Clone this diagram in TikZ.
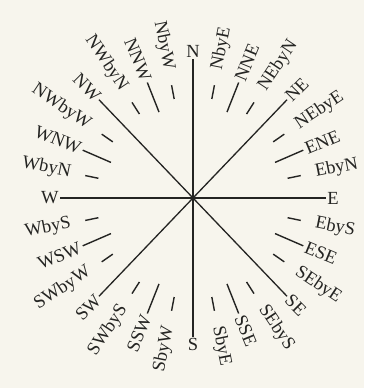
\documentclass[tikz,border=0pt]{standalone}
\usepackage{fontspec}
\setmainfont{Liberation Serif}
\definecolor{paper}{RGB}{247,245,237}
\definecolor{ink}{RGB}{36,36,34}
\begin{document}
\begin{tikzpicture}[x=1pt,y=1pt,
  ray/.style={draw=ink,line width=1.3pt},
  tickline/.style={draw=ink,line width=1.4pt},
  lab/.style={text=ink,inner sep=0.5pt,font=\fontsize{18.5}{18.5}\selectfont}]
\fill[paper] (-193,-190) rectangle (171,198);
\useasboundingbox (-193,-190) rectangle (171,198);
\coordinate (c) at (0,0);
\foreach \nm [count=\j from 0] in {N,NbyE,NNE,NEbyN,NE,NEbyE,ENE,EbyN,E,EbyS,ESE,SEbyE,SE,SEbyS,SSE,SbyE,S,SbyW,SSW,SWbyS,SW,SWbyW,WSW,WbyS,W,WbyN,WNW,NWbyW,NW,NWbyN,NNW,NbyW} {
  \pgfmathsetmacro{\a}{90-\j*11.25}
  \pgfmathtruncatemacro{\m}{mod(\j,4)}
  \pgfmathtruncatemacro{\o}{mod(\j,2)}
  \ifnum\m=0
    \coordinate (p\j) at ({133*cos(\a)},{139*sin(\a)});
    \draw[ray] (c) -- (p\j);
    \def\lr{140}
  \else
    \ifnum\o=1
      \def\ra{101}\def\rb{115}\def\lr{130}
    \else
      \def\ra{93}\def\rb{125}\def\lr{127}
    \fi
    \coordinate (ta\j) at ({0.955*\ra*cos(\a)},{\ra*sin(\a)});
    \coordinate (tb\j) at ({0.955*\rb*cos(\a)},{\rb*sin(\a)});
    \draw[tickline] (ta\j) -- (tb\j);
  \fi
  \ifnum\j<16
    \def\anc{west}\pgfmathsetmacro{\rot}{\a}
  \else
    \def\anc{east}\pgfmathsetmacro{\rot}{\a+180}
  \fi
  \ifnum\j=0 \def\anc{south}\def\rot{0}\fi
  \ifnum\j=8 \def\anc{west}\def\rot{0}\fi
  \ifnum\j=16 \def\anc{north}\def\rot{0}\fi
  \ifnum\j=24 \def\anc{east}\def\rot{0}\fi
  \node[lab,rotate=\rot,anchor=\anc] (l\j) at ({0.955*\lr*cos(\a)},{\lr*sin(\a)}) {\nm};
}
\fill[ink] (c) circle (1.6);
\end{tikzpicture}
\end{document}
